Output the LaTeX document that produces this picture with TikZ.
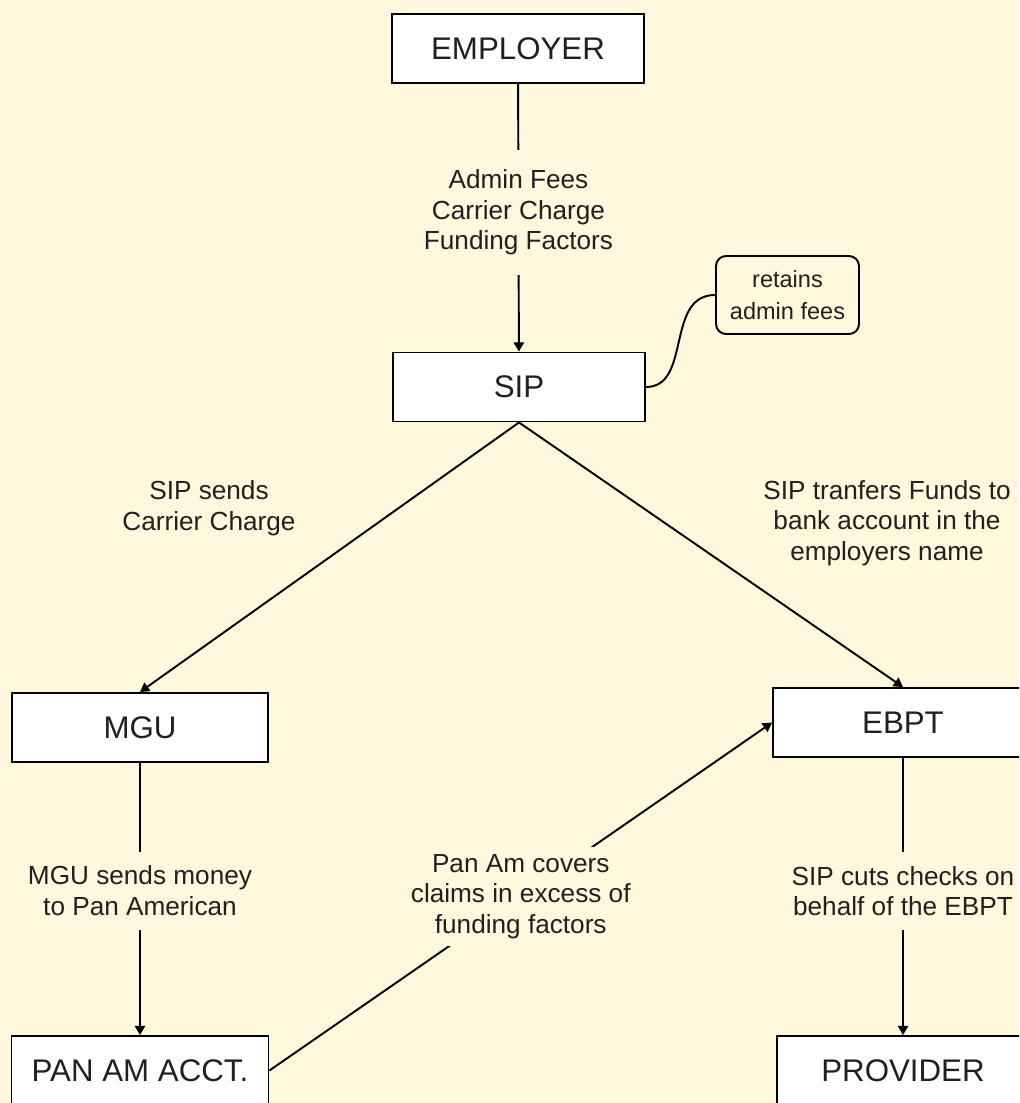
\documentclass[tikz,border=0pt]{standalone}
\usepackage{fontspec}
\setmainfont{Liberation Sans}
\usetikzlibrary{arrows.meta}
\definecolor{paper}{RGB}{255,248,220}
\definecolor{ink}{RGB}{35,31,32}

\begin{document}
\begin{tikzpicture}[x=0.02cm,y=-0.02cm,
    party/.style={draw=black,fill=white,line width=1.1pt,minimum width=5.04cm,minimum height=1.38cm,inner sep=0pt,text=ink,font=\fontsize{17.8}{20}\selectfont},
    memo/.style={draw=black,fill=paper,line width=1.1pt,rounded corners=0.2cm,minimum width=2.86cm,minimum height=1.56cm,inner sep=0pt,align=center,text=ink,font=\fontsize{13.4}{18}\selectfont},
    money/.style={fill=paper,align=center,text=ink,inner xsep=2pt,inner ysep=8pt,font=\fontsize{14.9}{17.4}\selectfont},
    note/.style={align=center,text=ink,font=\fontsize{14.9}{17.4}\selectfont},
    flow/.style={line width=1.1pt,-{Triangle[length=5.2pt,width=5.8pt]}},
    plain/.style={line width=1.1pt}]
  \fill[paper] (0,0) rectangle (1019,1103);
  \useasboundingbox (0,0) rectangle (1019,1103);
  \clip (0,0) rectangle (1019,1103);
  % parties
  \node[party] (employer) at (518,48.5) {EMPLOYER};
  \node[party] (sip) at (519,387) {SIP};
  \node[memo] (retain) at (787.5,295) {retains\\admin fees};
  \node[party,minimum width=5.12cm] (mgu) at (140,727.5) {MGU};
  \node[party,minimum width=5.2cm] (ebpt) at (903,722.5) {EBPT};
  \node[party,minimum width=5.14cm] (panam) at (140,1070.5) {PAN AM ACCT.};
  \node[party] (provider) at (903,1070.5) {PROVIDER};
  % free labels
  \node[note] (sends) at (209,508) {SIP sends\\Carrier Charge};
  \node[note] (transfers) at (887,523) {SIP tranfers Funds to\\bank account in the\\employers name};
  % money flows
  \draw[flow] (employer) -- node[money,pos=0.48,inner ysep=11pt] {Admin Fees\\Carrier Charge\\Funding Factors} (sip);
  \draw[plain] (sip.east) .. controls +(46,0) and +(-50,0) .. (retain.west);
  \draw[flow] (sip.south) -- (mgu.north);
  \draw[flow] (sip.south) -- (ebpt.north);
  \draw[flow] (mgu) -- node[money,pos=0.47] {MGU sends money\\to Pan American} (panam);
  \draw[flow] (ebpt) -- node[money,pos=0.48] {SIP cuts checks on\\behalf of the EBPT} (provider);
  \draw[flow] (panam.east) -- node[money,inner ysep=4pt] {Pan Am covers\\claims in excess of\\funding factors} (ebpt.west);
\end{tikzpicture}
\end{document}
